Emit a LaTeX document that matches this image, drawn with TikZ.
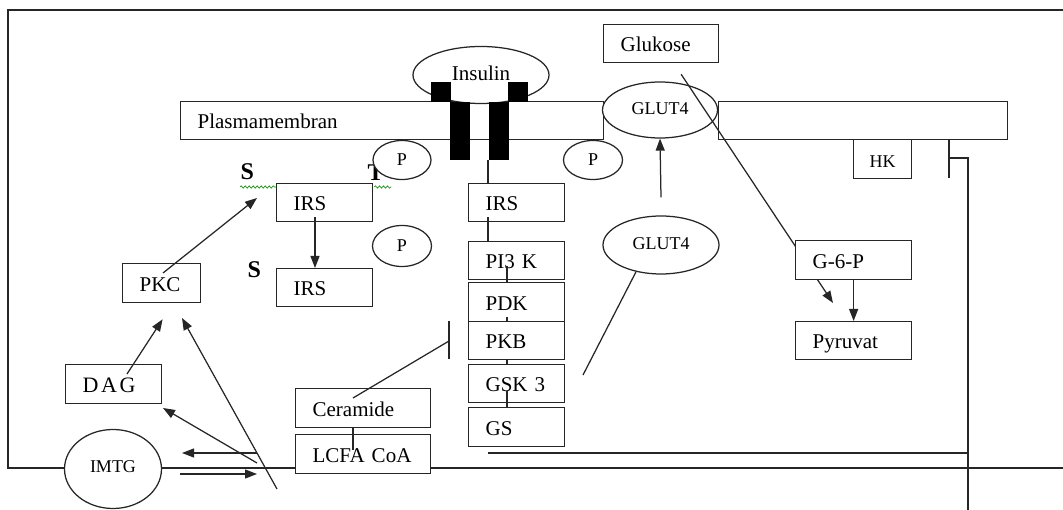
\documentclass[tikz,border=0pt]{standalone}
\usepackage{fontspec}
\setmainfont{Liberation Serif}
\usetikzlibrary{arrows.meta,shapes.geometric,decorations.pathmorphing}
\begin{document}
\begin{tikzpicture}[x=1pt,y=-1pt, line width=1.25pt, draw=black!85,
  font=\fontsize{21}{24}\selectfont,
  box/.style={draw=black!85, fill=white, rectangle, anchor=north west, inner xsep=17pt, inner ysep=0pt, align=left, text height=17pt, text depth=1pt},
  ell/.style={draw=black!85, fill=white, ellipse, inner sep=0pt},
  bar/.style={fill=black, rectangle, inner sep=0pt, anchor=north west, minimum width=20pt},
  arr/.style={-{Triangle[length=12pt,width=9pt]}},
  squig/.style={draw=green!55!black, line width=0.6pt, decorate, decoration={snake, amplitude=1.2pt, segment length=4pt}},
  lbl/.style={font=\fontsize{24}{28}\selectfont\bfseries, inner sep=0pt, anchor=base west}]

\useasboundingbox (0,0) rectangle (1063,510);

% cell boundary
\coordinate (fr1) at (1063,10);
\coordinate (fr2) at (8,10);
\coordinate (fr3) at (8,468);
\coordinate (fr4) at (1063,468);
\draw (fr1) -- (fr2) -- (fr3) -- (fr4);

% inhibition of HK
\coordinate (gsout) at (488,453);
\coordinate (hkc) at (968,453);
\coordinate (hkb) at (968,510);
\coordinate (hkt) at (968,158);
\coordinate (hkbar) at (949,158);
\draw (gsout) -- (hkc);
\draw (hkb) -- (hkt) -- (hkbar);
\draw ([shift={(0,-19)}]hkbar) -- ([shift={(0,20)}]hkbar);

% left arrows
\coordinate (a1s) at (277,489); \coordinate (a1e) at (182,318);
\coordinate (a2s) at (257,463); \coordinate (a2e) at (163,408);
\coordinate (a3s) at (257,453); \coordinate (a3e) at (182,453);
\coordinate (a4s) at (180,474); \coordinate (a4e) at (257,474);
\draw[arr] (a1s) -- (a1e);
\draw[arr] (a2s) -- (a2e);
\draw[arr] (a3s) -- (a3e);
\draw[arr] (a4s) -- (a4e);

% membrane
\node[box, minimum width=423pt, minimum height=38pt, text width=389pt] (mem1) at (180,101) {Plasmamembran};
\node[box, minimum width=289pt, minimum height=38pt, text width=255pt] (mem2) at (718,101) {};
\node[ell, minimum width=136pt, minimum height=57pt] (ins) at (481,75) {\raisebox{3pt}{Insulin}};
\node[bar, minimum height=20pt] (barL1) at (430,81) {};
\node[bar, minimum height=58pt] (barL2) at (449,101) {};
\node[bar, minimum height=20pt] (barR1) at (507,81) {};
\node[bar, minimum height=58pt] (barR2) at (488,101) {};

% glucose uptake
\node[ell, minimum width=115pt, minimum height=56pt, font=\fontsize{18}{22}\selectfont] (glutA) at (660,110) {\raisebox{3pt}{GLUT4}};
\node[box, minimum width=115pt, minimum height=38pt, text width=81pt] (gluk) at (603,24) {Glukose};
\coordinate (gend) at (833,303);
\draw[arr] ([shift={(20,11)}]gluk.south) -- (gend);
\node[box, minimum width=116pt, minimum height=39pt, text width=82pt] (g6p) at (795,240) {G-6-P};
\node[box, minimum width=116pt, minimum height=38pt, text width=82pt] (pyr) at (795,321) {Pyruvat};
\draw[arr] (g6p.south) -- (pyr.north);
\node[box, minimum width=58pt, minimum height=39pt, text width=26pt, inner xsep=16pt, font=\fontsize{18}{22}\selectfont] (hk) at (853,139) {HK};

\node[ell, minimum width=116pt, minimum height=58pt, font=\fontsize{18}{22}\selectfont] (glutB) at (661,245) {\raisebox{3pt}{GLUT4}};
\draw[arr] ([shift={(0,-18)}]glutB.north) -- (glutA.south);
\coordinate (glutBend) at (583,375);
\draw (glutB.227) -- (glutBend);

% phospho sites
\node[lbl] (S1) at (240,180) {S};
\node[lbl] (T1) at (367,181) {T};
\node[ell, minimum width=58pt, minimum height=39pt, font=\fontsize{18}{22}\selectfont] (P1) at (402,160) {P};
\node[ell, minimum width=59pt, minimum height=39pt, font=\fontsize{18}{22}\selectfont] (P2) at (593,160) {P};
\node[ell, minimum width=59pt, minimum height=41pt, font=\fontsize{18}{22}\selectfont] (P3) at (402,246) {P};
\node[lbl] (S2) at (247,278) {S};

% IRS left
\node[box, minimum width=96pt, minimum height=38pt, text width=62pt] (irsL1) at (276,183) {IRS};
\node[box, minimum width=96pt, minimum height=38pt, text width=62pt] (irsL2) at (276,268) {IRS};
\draw[arr] ([shift={(39,-5)}]irsL1.south west) -- ([shift={(39,0)}]irsL2.north west);
\draw[squig] ([shift={(-36,4)}]irsL1.north west) -- ([shift={(0,4)}]irsL1.north west);
\draw[squig] ([shift={(1,4)}]irsL1.north east) -- ([shift={(18,4)}]irsL1.north east);

% insulin signalling column
\node[box, minimum width=96pt, minimum height=38pt, text width=62pt] (irsM) at (468,183) {IRS};
\node[box, minimum width=96pt, minimum height=38pt, text width=62pt] (pi3k) at (468,241) {PI3 K};
\node[box, minimum width=96pt, minimum height=39pt, text width=62pt] (pdk) at (468,282) {PDK};
\node[box, minimum width=96pt, minimum height=38pt, text width=62pt] (pkb) at (468,321) {PKB};
\node[box, minimum width=96pt, minimum height=38pt, text width=62pt] (gsk) at (468,364) {GSK 3};
\node[box, minimum width=96pt, minimum height=39pt, text width=62pt] (gs) at (468,407) {GS};
\draw (barR2.south west) -- (barR2.south west |- irsM.north);
\draw ([shift={(20,-5)}]irsM.south west) -- ([shift={(20,0)}]pi3k.north west);
\draw ([shift={(39,-14)}]pi3k.south west) -- ([shift={(39,0)}]pdk.north west);
\draw ([shift={(39,-5)}]pdk.south west) -- ([shift={(39,0)}]pkb.north west);
\draw ([shift={(39,0)}]pkb.south west) -- ([shift={(39,0)}]gsk.north west);
\draw ([shift={(39,-12)}]gsk.south west) -- ([shift={(39,0)}]gs.north west);

% lipid side
\node[box, minimum width=78pt, minimum height=39pt, text width=44pt] (pkc) at (122,263) {PKC};
\node[box, minimum width=96pt, minimum height=39pt, text width=62pt, font=\fontsize{22}{26}\selectfont\addfontfeatures{LetterSpace=12}] (dag) at (65,364) {DAG};
\node[box, minimum width=135pt, minimum height=39pt, text width=101pt] (cer) at (295,388) {Ceramide};
\node[box, minimum width=135pt, minimum height=39pt, text width=101pt] (lcfa) at (295,434) {LCFA CoA};
\node[ell, minimum width=97pt, minimum height=79pt, font=\fontsize{18}{22}\selectfont] (imtg) at (113,469) {\raisebox{5pt}{IMTG}};

\coordinate (stgt) at (257,198);
\draw[arr] ([shift={(41,10)}]pkc.north west) -- (stgt);
\draw[arr] ([shift={(62,10)}]dag.north west) -- ([shift={(1,16)}]pkc.south);
\draw ([shift={(58,0)}]cer.south west) -- ([shift={(58,16)}]lcfa.north west);
\coordinate (cerbar) at (449,341);
\draw ([shift={(58,10)}]cer.north west) -- (cerbar);
\draw ([shift={(0,-20)}]cerbar) -- ([shift={(0,18)}]cerbar);

\end{tikzpicture}
\end{document}
